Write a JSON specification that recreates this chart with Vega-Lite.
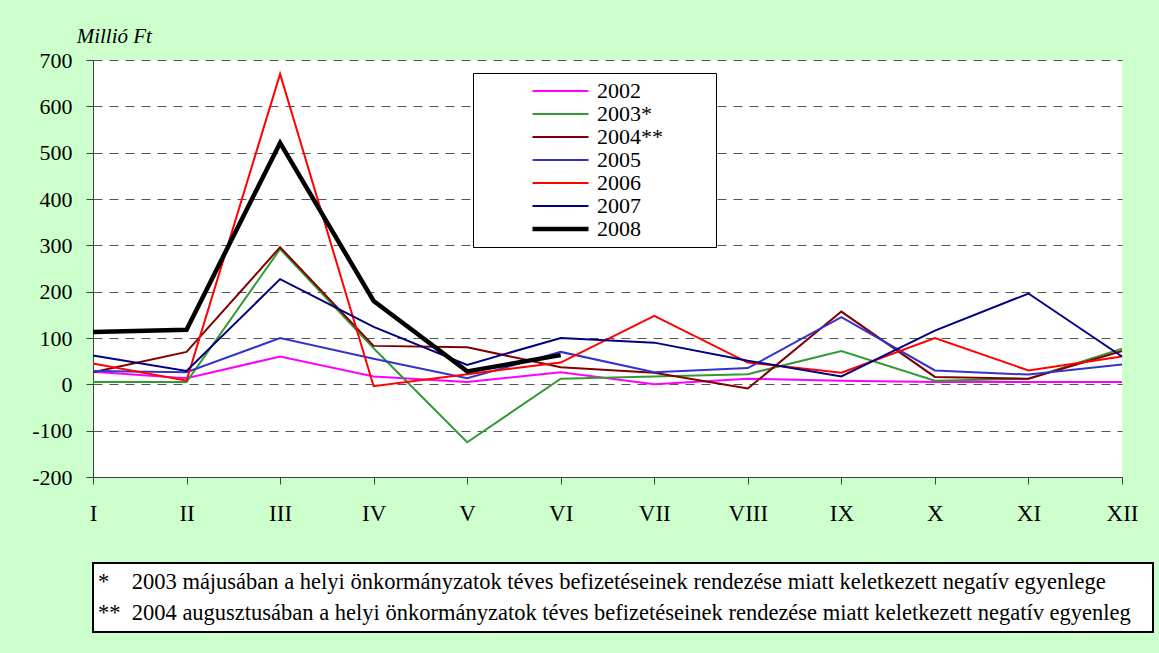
{
  "$schema": "https://vega.github.io/schema/vega-lite/v6.json",
  "background": "#ccffcc",
  "padding": {"left": 31, "top": 26, "right": 5, "bottom": 20},
  "title": {"text": "Millió Ft", "anchor": "start", "dx": 45, "offset": 2, "font": "Liberation Serif", "fontSize": 21, "fontStyle": "italic", "fontWeight": "normal", "color": "black"},
  "spacing": 37,
  "resolve": {"legend": {"color": "independent", "strokeWidth": "independent"}},
  "config": {
    "font": "Liberation Serif",
    "view": {"stroke": null},
    "line": {"strokeJoin": "miter"}
  },
  "vconcat": [
    {
      "width": 1029,
      "height": 417,
      "view": {"fill": "white", "stroke": null},
      "data": {
        "values": [
          {"m": "I", "y": "2002", "v": 27}, {"m": "II", "y": "2002", "v": 13}, {"m": "III", "y": "2002", "v": 60}, {"m": "IV", "y": "2002", "v": 17}, {"m": "V", "y": "2002", "v": 5}, {"m": "VI", "y": "2002", "v": 26}, {"m": "VII", "y": "2002", "v": 0}, {"m": "VIII", "y": "2002", "v": 12}, {"m": "IX", "y": "2002", "v": 8}, {"m": "X", "y": "2002", "v": 5}, {"m": "XI", "y": "2002", "v": 5}, {"m": "XII", "y": "2002", "v": 5},
          {"m": "I", "y": "2003*", "v": 5}, {"m": "II", "y": "2003*", "v": 5}, {"m": "III", "y": "2003*", "v": 292}, {"m": "IV", "y": "2003*", "v": 78}, {"m": "V", "y": "2003*", "v": -125}, {"m": "VI", "y": "2003*", "v": 12}, {"m": "VII", "y": "2003*", "v": 17}, {"m": "VIII", "y": "2003*", "v": 22}, {"m": "IX", "y": "2003*", "v": 72}, {"m": "X", "y": "2003*", "v": 8}, {"m": "XI", "y": "2003*", "v": 12}, {"m": "XII", "y": "2003*", "v": 77},
          {"m": "I", "y": "2004**", "v": 26}, {"m": "II", "y": "2004**", "v": 70}, {"m": "III", "y": "2004**", "v": 296}, {"m": "IV", "y": "2004**", "v": 83}, {"m": "V", "y": "2004**", "v": 80}, {"m": "VI", "y": "2004**", "v": 37}, {"m": "VII", "y": "2004**", "v": 25}, {"m": "VIII", "y": "2004**", "v": -9}, {"m": "IX", "y": "2004**", "v": 157}, {"m": "X", "y": "2004**", "v": 16}, {"m": "XI", "y": "2004**", "v": 12}, {"m": "XII", "y": "2004**", "v": 72},
          {"m": "I", "y": "2005", "v": 29}, {"m": "II", "y": "2005", "v": 26}, {"m": "III", "y": "2005", "v": 100}, {"m": "IV", "y": "2005", "v": 55}, {"m": "V", "y": "2005", "v": 13}, {"m": "VI", "y": "2005", "v": 70}, {"m": "VII", "y": "2005", "v": 26}, {"m": "VIII", "y": "2005", "v": 35}, {"m": "IX", "y": "2005", "v": 145}, {"m": "X", "y": "2005", "v": 30}, {"m": "XI", "y": "2005", "v": 21}, {"m": "XII", "y": "2005", "v": 43},
          {"m": "I", "y": "2006", "v": 45}, {"m": "II", "y": "2006", "v": 8}, {"m": "III", "y": "2006", "v": 670}, {"m": "IV", "y": "2006", "v": -4}, {"m": "V", "y": "2006", "v": 22}, {"m": "VI", "y": "2006", "v": 47}, {"m": "VII", "y": "2006", "v": 148}, {"m": "VIII", "y": "2006", "v": 47}, {"m": "IX", "y": "2006", "v": 25}, {"m": "X", "y": "2006", "v": 100}, {"m": "XI", "y": "2006", "v": 30}, {"m": "XII", "y": "2006", "v": 60},
          {"m": "I", "y": "2007", "v": 62}, {"m": "II", "y": "2007", "v": 29}, {"m": "III", "y": "2007", "v": 227}, {"m": "IV", "y": "2007", "v": 124}, {"m": "V", "y": "2007", "v": 42}, {"m": "VI", "y": "2007", "v": 100}, {"m": "VII", "y": "2007", "v": 90}, {"m": "VIII", "y": "2007", "v": 51}, {"m": "IX", "y": "2007", "v": 17}, {"m": "X", "y": "2007", "v": 116}, {"m": "XI", "y": "2007", "v": 196}, {"m": "XII", "y": "2007", "v": 60},
          {"m": "I", "y": "2008", "v": 113}, {"m": "II", "y": "2008", "v": 118}, {"m": "III", "y": "2008", "v": 521}, {"m": "IV", "y": "2008", "v": 180}, {"m": "V", "y": "2008", "v": 28}, {"m": "VI", "y": "2008", "v": 63}
        ]
      },
      "mark": {"type": "line"},
      "encoding": {
        "x": {
          "field": "m", "type": "ordinal",
          "sort": ["I", "II", "III", "IV", "V", "VI", "VII", "VIII", "IX", "X", "XI", "XII"],
          "scale": {"type": "point", "padding": 0},
          "axis": {"title": null, "labelAngle": 0, "labelFont": "Liberation Serif", "labelFontSize": 23, "labelColor": "black", "labelPadding": 18, "tickSize": 7, "tickColor": "#404040", "domainColor": "#404040", "grid": false}
        },
        "y": {
          "field": "v", "type": "quantitative",
          "scale": {"domain": [-200, 700], "nice": false, "zero": false},
          "axis": {
            "values": [-200, -100, 0, 100, 200, 300, 400, 500, 600, 700],
            "labelExpr": "'' + datum.value",
            "title": null,
            "labelFont": "Liberation Serif", "labelFontSize": 22, "labelColor": "black", "labelPadding": 14,
            "tickSize": 7, "tickColor": "#404040", "domainColor": "#404040",
            "grid": true, "gridDash": [9, 7], "gridColor": "#555555", "gridWidth": 1
          }
        },
        "color": {
          "field": "y", "type": "ordinal",
          "sort": ["2002", "2003*", "2004**", "2005", "2006", "2007", "2008"],
          "scale": {"type": "ordinal", "domain": ["2002", "2003*", "2004**", "2005", "2006", "2007", "2008"], "range": ["#ff00ff", "#339933", "#800000", "#3333cc", "#ff0000", "#000080", "#000000"]},
          "legend": {"orient": "none", "legendX": 380, "legendY": 13, "title": "MM", "titleOrient": "right", "titleOpacity": 0, "titlePadding": 4, "titleFontSize": 22, "titleFont": "Liberation Serif", "fillColor": "white", "strokeColor": "black", "padding": 7, "rowPadding": 1, "clipHeight": 22, "symbolType": "stroke", "symbolSize": 3136, "symbolOffset": 50, "labelOffset": 6, "labelFont": "Liberation Serif", "labelFontSize": 22, "labelColor": "black"}
        },
        "strokeWidth": {
          "field": "y", "type": "ordinal",
          "sort": ["2002", "2003*", "2004**", "2005", "2006", "2007", "2008"],
          "scale": {"type": "ordinal", "domain": ["2002", "2003*", "2004**", "2005", "2006", "2007", "2008"], "range": [2, 2, 2, 2, 2, 2, 4.5]},
          "legend": {"orient": "none", "legendX": 380, "legendY": 13, "title": "MM", "titleOrient": "right", "titleOpacity": 0, "titlePadding": 4, "titleFontSize": 22, "titleFont": "Liberation Serif", "fillColor": "white", "strokeColor": "black", "padding": 7, "rowPadding": 1, "clipHeight": 22, "symbolType": "stroke", "symbolSize": 3136, "symbolOffset": 50, "labelOffset": 6, "labelFont": "Liberation Serif", "labelFontSize": 22, "labelColor": "black"}
        }
      }
    },
    {
      "width": 1060,
      "height": 69,
      "view": {"fill": "white", "stroke": "black", "strokeWidth": 2},
      "data": {
        "values": [
          {"line": 1, "pos": 0, "text": "*\u00a0\u00a0\u00a0 2003 májusában a helyi önkormányzatok téves befizetéseinek rendezése miatt keletkezett negatív egyenlege"},
          {"line": 2, "pos": 0, "text": "**\u00a0 2004 augusztusában a helyi önkormányzatok téves befizetéseinek rendezése miatt keletkezett negatív egyenleg"}
        ]
      },
      "mark": {"type": "text", "align": "left", "baseline": "middle", "font": "Liberation Serif", "fontSize": 22.5, "color": "black", "dx": 5},
      "encoding": {
        "x": {"field": "pos", "type": "quantitative", "scale": {"domain": [0, 1]}, "axis": null},
        "y": {"field": "line", "type": "ordinal", "scale": {"type": "point", "padding": 0.6, "align": 0.5}, "axis": null},
        "text": {"field": "text"}
      }
    }
  ]
}
